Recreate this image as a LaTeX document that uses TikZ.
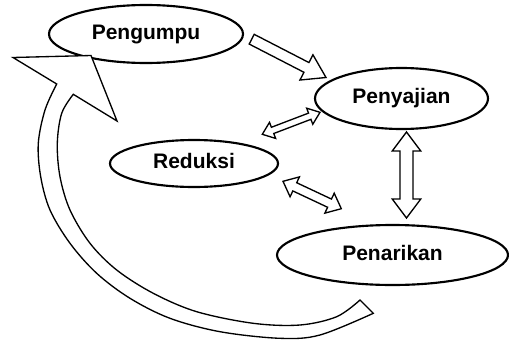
\documentclass[tikz,border=0pt]{standalone}
\usepackage{fontspec}
\setmainfont{Liberation Sans}
\usetikzlibrary{calc,shapes.geometric}

\tikzset{
  stage/.style={ellipse, draw, line width=1.6pt, inner sep=0pt, fill=white,
    font=\fontsize{15.75}{18}\selectfont\bfseries,
    text height=11.3pt, text depth=3.7pt},
  hollow/.style={draw, line width=1pt, fill=white, line join=miter},
}

% outlined block arrow from #1 to #2
% #3 half shaft width, #4 half head width, #5 head length
\newcommand\onewayarrow[5]{%
  \coordinate (ow-h) at ($(#2)!#5!(#1)$);
  \draw[hollow] ($(#1)!#3!90:(#2)$) -- ($(ow-h)!#3!-90:(#1)$)
    -- ($(ow-h)!#4!-90:(#1)$) -- (#2) -- ($(ow-h)!#4!90:(#1)$)
    -- ($(ow-h)!#3!90:(#1)$) -- ($(#1)!#3!-90:(#2)$) -- cycle;
}

% outlined block arrow with heads at both ends
\newcommand\twowayarrow[5]{%
  \coordinate (tw-a) at ($(#1)!#5!(#2)$);
  \coordinate (tw-b) at ($(#2)!#5!(#1)$);
  \draw[hollow] (#1) -- ($(tw-a)!#4!90:(#2)$) -- ($(tw-a)!#3!90:(#2)$)
    -- ($(tw-b)!#3!-90:(#1)$) -- ($(tw-b)!#4!-90:(#1)$) -- (#2)
    -- ($(tw-b)!#4!90:(#1)$) -- ($(tw-b)!#3!90:(#1)$)
    -- ($(tw-a)!#3!-90:(#2)$) -- ($(tw-a)!#4!-90:(#2)$) -- cycle;
}

\begin{document}
\begin{tikzpicture}[x=0.75pt,y=-0.75pt]
\useasboundingbox (0,0) rectangle (509,339);

% the four stages
\node[stage, minimum width=145.5pt, minimum height=43.5pt] (peng) at (146,34) {Pengumpu};
\node[stage, minimum width=129.75pt, minimum height=45.75pt] (peny) at (401.5,98.5) {Penyajian};
\node[stage, minimum width=126pt, minimum height=35.25pt] (redu) at (194,163.5) {Reduksi};
\node[stage, minimum width=173.25pt, minimum height=45pt] (pena) at (392.5,255) {Penarikan};

% arrow ends
\coordinate (a1s) at (251.7,39.2);
\coordinate (a1e) at (326,77.5);
\coordinate (a2s) at (262.3,134.3);
\coordinate (a2e) at (320,112.3);
\coordinate (a3s) at (406.5,132);
\coordinate (a3e) at (406.5,218);
\coordinate (a4s) at (283,181.3);
\coordinate (a4e) at (341.3,208.7);

\onewayarrow{a1s}{a1e}{4.1pt}{10.65pt}{16.5pt}
\twowayarrow{a2s}{a2e}{2.5pt}{6.45pt}{8.25pt}
\twowayarrow{a3s}{a3e}{4.9pt}{10.7pt}{14.25pt}
\twowayarrow{a4s}{a4e}{3.4pt}{8.25pt}{9.75pt}

% curved return arrow back to Pengumpu
\draw[hollow] (56.7,84)
  -- plot[smooth, tension=0.55] coordinates {(56.7,84) (45,110) (38.3,143.3)
     (40.7,176.7) (50,210) (70,243.3) (96.7,273.3) (130,298.3) (170,318.3)
     (220,331.7) (280,338.3) (320,335) (373.3,313.3)}
  -- (360,300)
  -- plot[smooth, tension=0.55] coordinates {(360,300) (336.7,316.7) (300,325)
     (253.3,323.3) (196.7,311.7) (153.3,293.3) (116.7,270) (90,243.3)
     (70,210) (60,176.7) (57.3,143.3) (61.7,113.3) (73.3,94.3)}
  -- (117,121) -- (91,55.5) -- (13,57.5) -- cycle;
\end{tikzpicture}
\end{document}
